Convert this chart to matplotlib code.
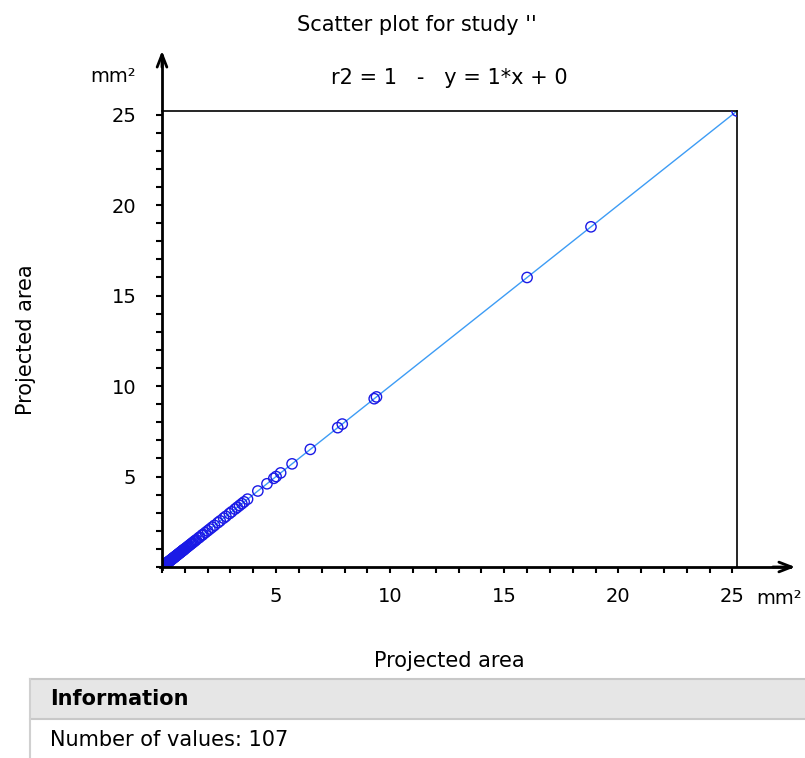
import matplotlib
matplotlib.use("Agg")
import matplotlib.pyplot as plt
from matplotlib.patches import Rectangle
from matplotlib.lines import Line2D
from matplotlib.ticker import MultipleLocator

# ---- data ----
values_x = [25.2, 18.8, 16.0, 9.4, 9.3, 7.9, 7.7, 6.5, 5.7, 5.2,
            5.0, 4.9, 4.6, 4.2, 3.75, 3.6, 3.5, 3.4, 3.3, 3.2,
            3.05, 2.95, 2.8, 2.7, 2.55, 2.45, 2.3, 2.2, 2.1, 2.0,
            1.9, 1.8, 1.75, 1.65, 1.6, 1.5, 1.45, 1.4, 1.35, 1.3,
            1.25, 1.2, 1.15, 1.1, 1.05, 1.0, 0.97,
            0.95, 0.92, 0.9, 0.88, 0.85, 0.82, 0.8, 0.78, 0.75, 0.72,
            0.7, 0.68, 0.65, 0.63, 0.6, 0.58, 0.56, 0.54, 0.52, 0.5,
            0.48, 0.46, 0.44, 0.42, 0.4, 0.38, 0.36, 0.34, 0.32, 0.3,
            0.29, 0.28, 0.26, 0.25, 0.24, 0.22, 0.21, 0.2, 0.19, 0.18,
            0.17, 0.16, 0.15, 0.14, 0.13, 0.12, 0.11, 0.1, 0.09, 0.08,
            0.07, 0.06, 0.055, 0.05, 0.045, 0.04, 0.035, 0.03, 0.025, 0.02]
values_y = list(values_x)
slope = 1.0
intercept = 0.0
x_max = 25.2
major_ticks = [5, 10, 15, 20, 25]
title = "Scatter plot for study ''"
subtitle = "r2 = 1   -   y = 1*x + 0"
axis_label = "Projected area"
unit = "mm²"
n_values = 107

W, H = 805, 758
fig = plt.figure(figsize=(W / 100, H / 100), dpi=100)
plt.rcParams['font.family'] = ['DejaVu Sans']

def fx(px):
    return px / W

def fy(py):
    return 1 - py / H

L, R, T, B = 162, 737, 111, 567
ax = fig.add_axes([fx(L), fy(B), (R - L) / W, (B - T) / H])
ax.set_xlim(0, x_max)
ax.set_ylim(0, x_max)

# regression line
lx = [0, x_max]
ly = [slope * v + intercept for v in lx]
ax.plot(lx, ly, color='#3d9cf5', lw=1.0, zorder=2)
ax.scatter(values_x, values_y, s=55, facecolors='none', edgecolors='#1a1ae6',
           linewidths=1.0, zorder=3)

for sp in ['left', 'bottom']:
    ax.spines[sp].set_visible(False)
for sp in ['top', 'right']:
    ax.spines[sp].set_linewidth(1.2)
    ax.spines[sp].set_color('black')

ax.xaxis.set_minor_locator(MultipleLocator(1))
ax.yaxis.set_minor_locator(MultipleLocator(1))
ax.set_xticks(major_ticks)
ax.set_yticks(major_ticks)
ax.set_xticklabels([str(t) for t in major_ticks])
ax.set_yticklabels([str(t) for t in major_ticks])
ax.tick_params(which='both', direction='out', length=4.5, width=1.5, color='black',
               top=False, right=False, labelsize=14)
ax.tick_params(axis='x', which='major', pad=10)
ax.tick_params(axis='y', which='major', pad=14)

# axis arrows
fig.add_artist(Line2D([fx(L), fx(L)], [fy(B + 2), fy(56)], color='black', lw=2.0))
fig.add_artist(Line2D([fx(L - 2), fx(790)], [fy(B), fy(B)], color='black', lw=2.0))
ax.annotate('', xy=(fx(L), fy(48)), xytext=(fx(L), fy(70)), xycoords='figure fraction',
            arrowprops=dict(arrowstyle='->,head_length=0.9,head_width=0.35', color='black', lw=2.0))
ax.annotate('', xy=(fx(798), fy(B)), xytext=(fx(770), fy(B)), xycoords='figure fraction',
            arrowprops=dict(arrowstyle='->,head_length=0.9,head_width=0.35', color='black', lw=2.0))

# texts
fig.text(fx(417), fy(25), title, ha='center', va='center', fontsize=15)
fig.text(fx(449), fy(78), subtitle, ha='center', va='center', fontsize=15)
fig.text(fx(113), fy(76), unit, ha='center', va='center', fontsize=14)
fig.text(fx(779), fy(598), unit, ha='center', va='center', fontsize=14)
fig.text(fx(449), fy(661), axis_label, ha='center', va='center', fontsize=15)
fig.text(fx(26), fy(340), axis_label, ha='center', va='center', fontsize=15, rotation=90)

# information panel
fig.add_artist(Rectangle((fx(30), fy(719)), fx(805) - fx(30), fy(679) - fy(719),
                         transform=fig.transFigure, facecolor='#e6e6e6', edgecolor='none'))
fig.add_artist(Line2D([fx(30), fx(805)], [fy(679), fy(679)], color='#c8c8c8', lw=1.5))
fig.add_artist(Line2D([fx(30), fx(805)], [fy(719), fy(719)], color='#c8c8c8', lw=1.5))
fig.add_artist(Line2D([fx(30), fx(30)], [fy(679), fy(758)], color='#d0d0d0', lw=1.5))
fig.text(fx(50), fy(699), "Information", ha='left', va='center', fontsize=15, fontweight='bold')
fig.text(fx(50), fy(740), f"Number of values: {n_values}", ha='left', va='center', fontsize=15)

fig.savefig("out.png", dpi=100)
